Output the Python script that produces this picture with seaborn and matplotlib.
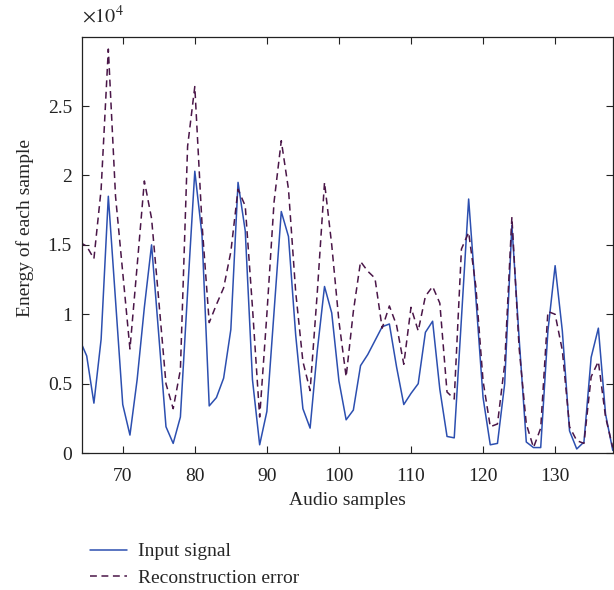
import numpy as np
import pandas as pd
import matplotlib
matplotlib.use("Agg")
import matplotlib.pyplot as plt
import seaborn as sns

# Audio sample index
samples = list(range(64, 139))

# Energy of each sample (x 1e4)
input_signal = [0.82, 0.70, 0.36, 0.82, 1.85, 1.10, 0.35, 0.13, 0.53, 1.05,
                1.50, 0.85, 0.19, 0.07, 0.26, 1.16, 2.03, 1.57, 0.34, 0.40,
                0.54, 0.89, 1.95, 1.60, 0.53, 0.06, 0.30, 1.02, 1.74, 1.56,
                0.85, 0.32, 0.18, 0.74, 1.20, 1.01, 0.52, 0.24, 0.31, 0.63,
                0.71, 0.81, 0.91, 0.93, 0.62, 0.35, 0.43, 0.50, 0.87, 0.95,
                0.46, 0.12, 0.11, 0.97, 1.83, 1.12, 0.40, 0.06, 0.07, 0.50,
                1.64, 0.83, 0.08, 0.04, 0.04, 0.88, 1.35, 0.88, 0.16, 0.03,
                0.08, 0.69, 0.90, 0.28, 0.02]

recon_error = [1.52, 1.49, 1.40, 1.90, 2.91, 1.85, 1.30, 0.75, 1.35, 1.96,
               1.69, 1.10, 0.50, 0.32, 0.60, 2.21, 2.64, 1.65, 0.94, 1.07,
               1.19, 1.45, 1.90, 1.78, 1.05, 0.26, 1.00, 1.81, 2.25, 1.90,
               1.16, 0.66, 0.45, 1.16, 1.95, 1.50, 0.95, 0.55, 1.02, 1.38,
               1.31, 1.26, 0.90, 1.06, 0.92, 0.64, 1.05, 0.88, 1.13, 1.20,
               1.08, 0.44, 0.39, 1.47, 1.59, 1.20, 0.52, 0.19, 0.21, 0.64,
               1.70, 0.76, 0.21, 0.04, 0.18, 1.02, 1.00, 0.74, 0.19, 0.09,
               0.07, 0.55, 0.66, 0.26, 0.04]

y_ticks = [0, 0.5, 1, 1.5, 2, 2.5]
x_ticks = [70, 80, 90, 100, 110, 120, 130]

df = pd.DataFrame({
    "sample": samples,
    "input": np.array(input_signal) * 1e4,
    "error": np.array(recon_error) * 1e4,
})

sns.set_style("ticks")
plt.rcParams["font.family"] = ["Liberation Serif", "DejaVu Serif"]
plt.rcParams["mathtext.fontset"] = "stix"
plt.rcParams["font.size"] = 14

fig = plt.figure(figsize=(6.14, 5.90), dpi=100)
ax = fig.add_axes([0.133, 0.232, 0.865, 0.706])

sns.lineplot(data=df, x="sample", y="input", ax=ax, color="#2c4fb0",
             linewidth=1.1, label="Input signal")
sns.lineplot(data=df, x="sample", y="error", ax=ax, color="#4a1648",
             linewidth=1.1, linestyle=(0, (4.5, 3)), label="Reconstruction error")

ax.set_xlim(64.3, 138)
ax.set_ylim(0, 3e4)
ax.set_xticks(x_ticks)
ax.set_yticks([v * 1e4 for v in y_ticks])
ax.set_yticklabels([f"{v:g}" for v in y_ticks])
ax.tick_params(direction="in", length=5, width=0.8, top=True, right=True,
               labelsize=14, colors="#222222")
ax.tick_params(axis="x", pad=11)
ax.tick_params(axis="y", pad=7)
for s in ax.spines.values():
    s.set_linewidth(0.9)
    s.set_color("#222222")

ax.set_xlabel("Audio samples", fontsize=14)
ax.xaxis.set_label_coords(0.5, -0.093)
ax.set_ylabel("Energy of each sample", fontsize=14)
ax.yaxis.set_label_coords(-0.09, 0.54)
ax.text(0.0, 1.022, r"$\times10^{4}$", transform=ax.transAxes,
        fontsize=14.5, ha="left", va="bottom")

ax.get_legend().remove()
handles, labels = ax.get_legend_handles_labels()
fig.legend(handles, labels, loc="upper left",
           bbox_to_anchor=(80 / 614, 1 - 533 / 590),
           bbox_transform=fig.transFigure, frameon=False, fontsize=14,
           handlelength=1.9, handletextpad=0.6, labelspacing=0.45, borderpad=0)

fig.savefig("out.png", dpi=100)
